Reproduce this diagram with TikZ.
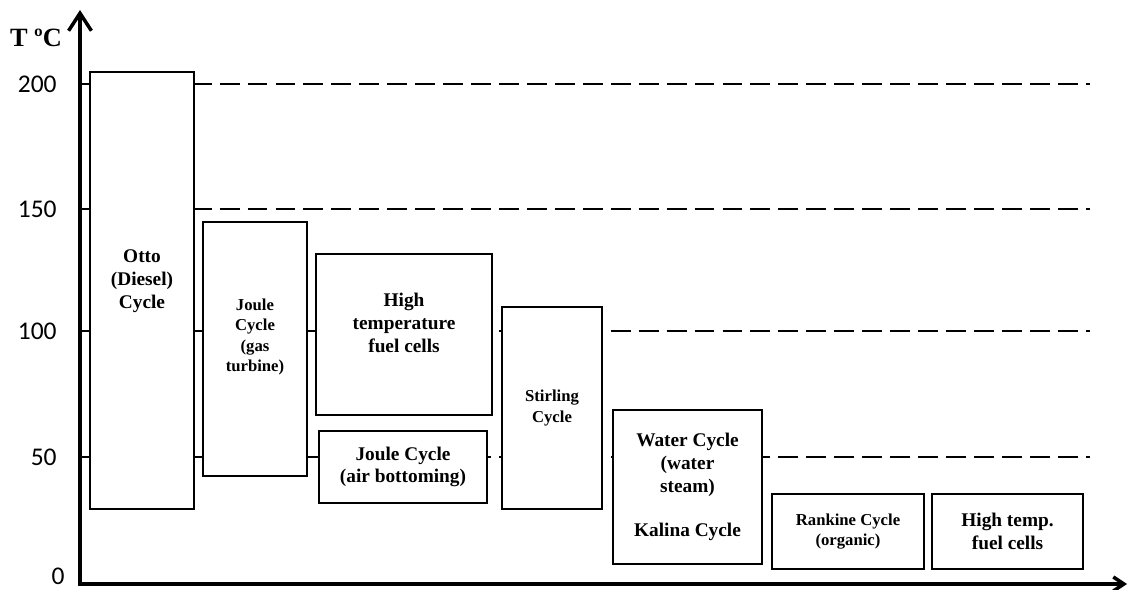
\documentclass[tikz,border=0pt]{standalone}
\usepackage{fontspec}
\setmainfont{Liberation Serif}
\newfontfamily\tickfont{Carlito}
\usetikzlibrary{arrows.meta}

\begin{document}
\begin{tikzpicture}[x=0.02cm, y=-0.02cm,
  cyclebox/.style = {draw, fill=white, line width=0.8pt, inner sep=0pt, align=center, font=\bfseries\fontsize{11}{13}\selectfont},
  cycletext/.style = {align=center, inner sep=0pt, font=\bfseries\fontsize{11}{13}\selectfont},
  smalltext/.style = {font=\bfseries\fontsize{9.5}{11.4}\selectfont},
  level/.style = {line width=1.3pt, dash pattern=on 11.3pt off 4.6pt},
  axis/.style = {line width=2pt, {Straight Barb[length=10pt,width=13pt]}-{Straight Barb[length=6pt,width=8pt]}},
  ticklabel/.style = {anchor=base east, inner sep=0pt, font=\tickfont\fontsize{14.5}{17}\selectfont}]
  \useasboundingbox (0,0) rectangle (1128,590);

  % temperature levels
  \foreach \val/\y in {200/84, 150/209, 100/331, 50/457} {
    \draw[level] (80,\y) -- (1090,\y);
    \node[ticklabel] (t\val) at (57,{\y+9}) {\val};
  }
  \node[ticklabel] (t0) at (65,584) {0};

  % axes
  \coordinate (origin) at (80,584);
  \coordinate (ytip) at (80,10);
  \coordinate (xtip) at (1127,584);
  \draw[axis] (ytip) -- (origin) -- (xtip);
  \node[anchor=base, inner sep=0pt, font=\bfseries\fontsize{15}{18}\selectfont] (tlabel) at (36,47) {T ºC};

  % cycles
  \node[cyclebox, minimum width=2.08cm, minimum height=8.74cm] (otto) at (142,290.5) {};
  \node[cycletext] (ottotext) at (142,281) {Otto\\(Diesel)\\Cycle};
  \node[cyclebox, minimum width=2.08cm, minimum height=5.08cm] (joulegas) at (255,349) {};
  \node[cycletext, smalltext] (joulegastext) at (255,337) {Joule\\Cycle\\(gas\\turbine)};
  \node[cyclebox, minimum width=3.52cm, minimum height=3.22cm] (htfc) at (404,334.5) {};
  \node[cycletext] (htfctext) at (404,323) {High\\temperature\\fuel cells};
  \node[cyclebox, minimum width=3.36cm, minimum height=1.44cm] (jouleair) at (403,467) {Joule Cycle\\(air bottoming)};
  \node[cyclebox, smalltext, minimum width=2.0cm, minimum height=4.04cm] (stirling) at (552,408) {Stirling\\Cycle};
  \node[cyclebox, minimum width=2.98cm, minimum height=3.08cm] (water) at (687.5,487) {Water Cycle\\(water\\steam)\\[12pt]Kalina Cycle};
  \node[cyclebox, smalltext, minimum width=3.04cm, minimum height=1.5cm] (rankine) at (848,531.5) {Rankine Cycle\\(organic)};
  \node[cyclebox, minimum width=3.02cm, minimum height=1.5cm] (lowfc) at (1007.5,531.5) {High temp.\\fuel cells};
\end{tikzpicture}
\end{document}
